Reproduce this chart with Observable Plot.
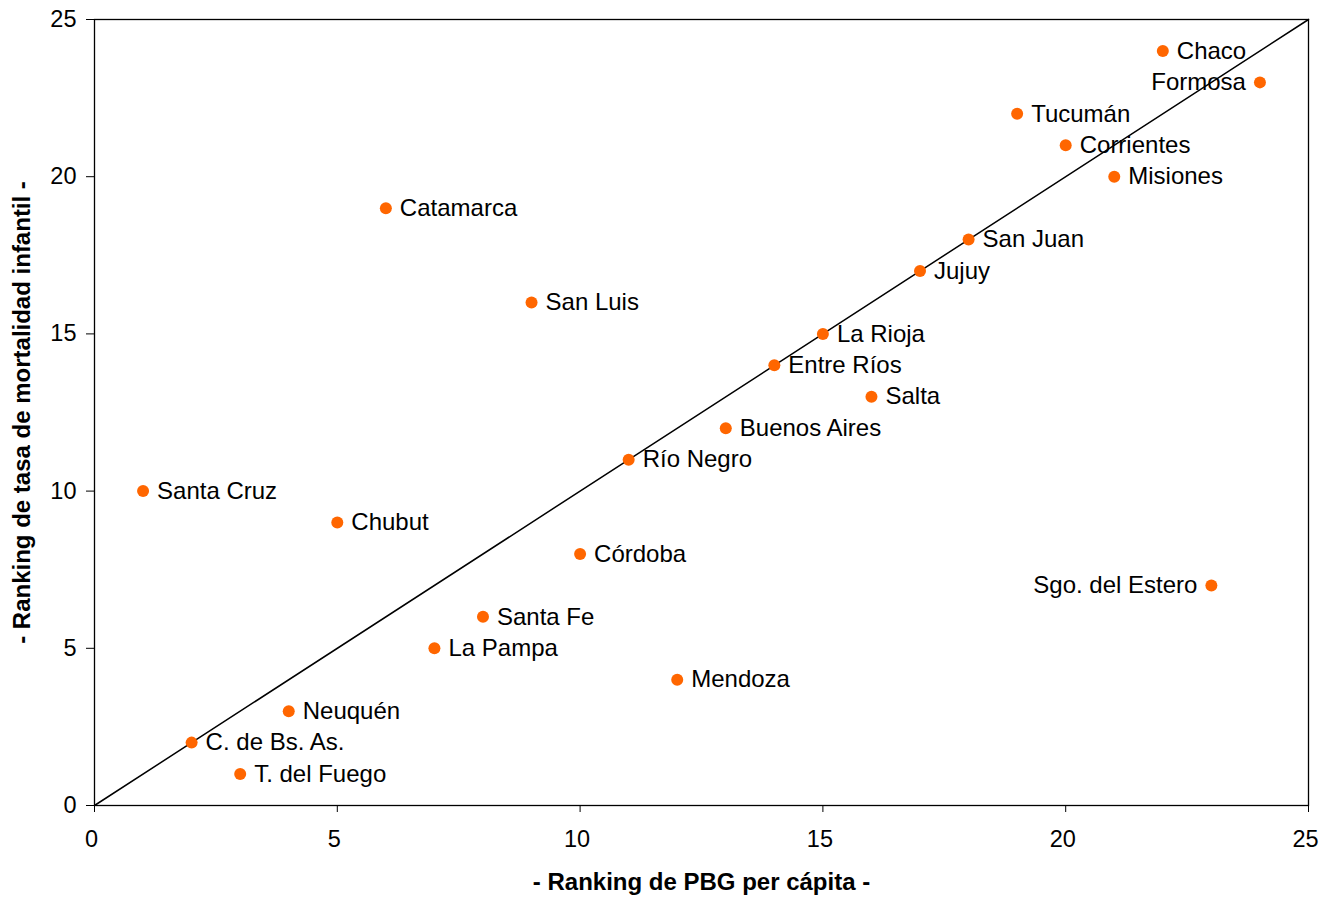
<!DOCTYPE html>
<html>
<head>
<meta charset="utf-8">
<script src="https://cdn.jsdelivr.net/npm/d3@7"></script>
<script src="https://cdn.jsdelivr.net/npm/@observablehq/plot@0.6"></script>
<style>
  html, body { margin: 0; padding: 0; background: #fff; }
  #chart { width: 1321px; height: 898px; }
</style>
</head>
<body>
<div id="chart"></div>
<script>
const provinces = ["Chaco","Formosa","Tucumán","Corrientes","Misiones","Catamarca","San Juan","Jujuy","San Luis","La Rioja","Entre Ríos","Salta","Buenos Aires","Río Negro","Santa Cruz","Chubut","Córdoba","Sgo. del Estero","Santa Fe","La Pampa","Mendoza","Neuquén","C. de Bs. As.","T. del Fuego"];
const pbgRank =        [22, 24, 19, 20, 21, 6, 18, 17, 9, 15, 14, 16, 13, 11, 1, 5, 10, 23, 8, 7, 12, 4, 2, 3];
const mortalityRank =  [24, 23, 22, 21, 20, 19, 18, 17, 16, 15, 14, 13, 12, 11, 10, 9, 8, 7, 6, 5, 4, 3, 2, 1];
const leftLabels = ["Formosa", "Sgo. del Estero"];
const ticks = [0, 5, 10, 15, 20, 25];
const diagonal = [[0, 0], [25, 25]];

const data = provinces.map((name, i) => ({name, x: pbgRank[i], y: mortalityRank[i]}));
const rightData = data.filter(d => !leftLabels.includes(d.name));
const leftData = data.filter(d => leftLabels.includes(d.name));

const font = "'Liberation Sans', Arial, sans-serif";

const chart = Plot.plot({
  width: 1321,
  height: 898,
  marginLeft: 94,
  marginRight: 13,
  marginTop: 19,
  marginBottom: 93,
  style: {fontFamily: font, fontSize: "23px", color: "#000", background: "#fff"},
  x: {domain: [0, 25], ticks: ticks},
  y: {domain: [0, 25], ticks: ticks},
  marks: [
    Plot.frame({stroke: "#000", strokeWidth: 1.3}),
    Plot.axisX(ticks, {tickSize: 7, tickFormat: () => "", label: null}),
    Plot.axisX(ticks, {tickSize: 0, tickPadding: 25, fontSize: 23.5, label: null, dx: -3}),
    Plot.axisY(ticks, {tickSize: 8, tickPadding: 10, fontSize: 23.5, label: null}),
    Plot.line(diagonal, {x: d => d[0], y: d => d[1], stroke: "#000", strokeWidth: 1.5}),
    Plot.dot(data, {x: "x", y: "y", r: 6, fill: "#FF6600", stroke: "none"}),
    Plot.text(rightData, {x: "x", y: "y", text: "name", textAnchor: "start", dx: 14, dy: 0, fontSize: 24, fill: "#000"}),
    Plot.text(leftData, {x: "x", y: "y", text: "name", textAnchor: "end", dx: -14, dy: 0, fontSize: 24, fill: "#000"}),
    Plot.text(["- Ranking de PBG per cápita -"], {frameAnchor: "bottom", textAnchor: "middle", dy: 84, fontSize: 24, fontWeight: "bold", fill: "#000"}),
    Plot.text(["- Ranking de tasa de mortalidad infantil -"], {frameAnchor: "left", textAnchor: "middle", dx: -72, rotate: -90, fontSize: 24, fontWeight: "bold", fill: "#000"})
  ]
});
document.getElementById("chart").appendChild(chart);
</script>
</body>
</html>
